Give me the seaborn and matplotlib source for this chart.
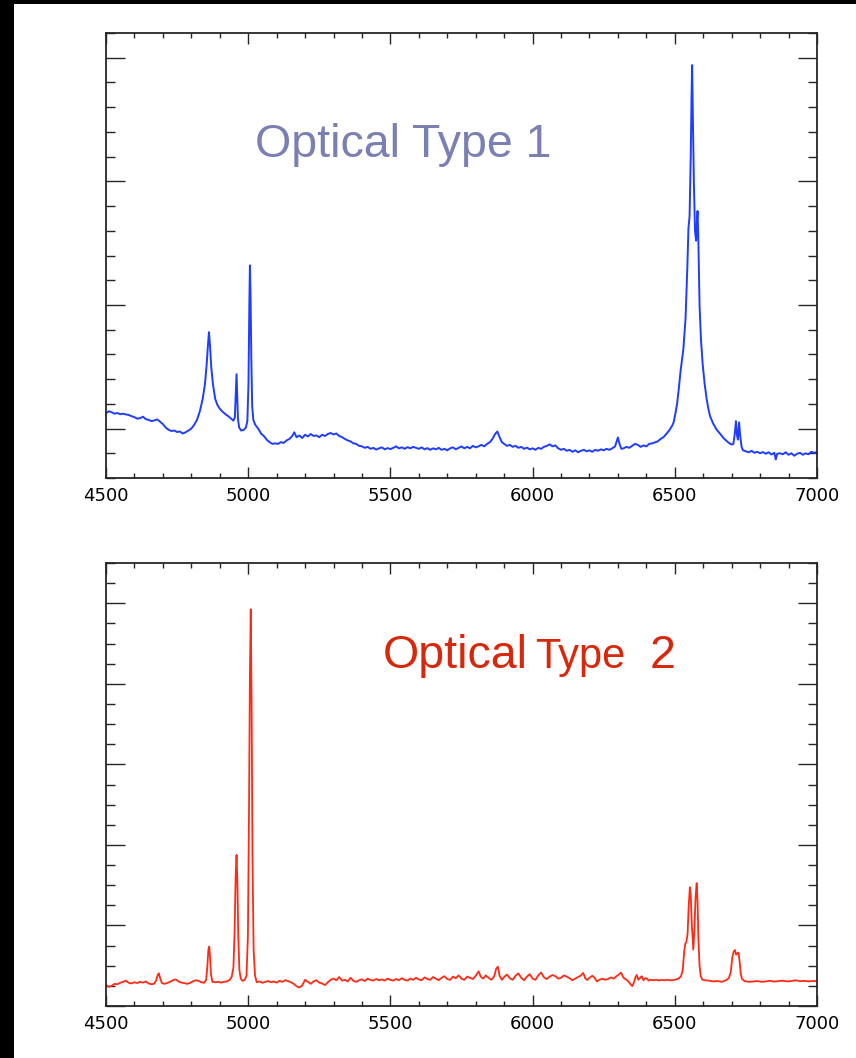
import matplotlib
matplotlib.use("Agg")
import matplotlib.pyplot as plt
from matplotlib.patches import Rectangle
from matplotlib.ticker import MultipleLocator
import seaborn as sns

sns.set_theme(style="white")
plt.rcParams["font.family"] = ["DejaVu Sans"]

# ---------------------------------------------------------------------------
# Type 1 (broad-line) spectrum: wavelength [Angstrom] and relative flux
# ---------------------------------------------------------------------------
wave_t1 = [
    4500, 4510, 4520, 4530, 4540, 4550, 4560, 4570, 4580, 4590,
    4600, 4610, 4620, 4630, 4640, 4650, 4660, 4670, 4680, 4690,
    4700, 4710, 4720, 4730, 4740, 4750, 4760, 4770, 4780, 4790,
    4800, 4810, 4820, 4830, 4840, 4848, 4854, 4858, 4862, 4866,
    4870, 4876, 4884, 4892, 4900, 4910, 4920, 4930, 4940, 4948,
    4953, 4956, 4959, 4961, 4964, 4968, 4975, 4985, 4992, 4997,
    5001, 5004, 5006, 5008, 5011, 5014, 5018, 5025, 5035, 5045,
    5055, 5065, 5075, 5085, 5095, 5105, 5115, 5125, 5135, 5145,
    5155, 5162, 5170, 5180, 5190, 5200, 5210, 5220, 5230, 5240,
    5250, 5260, 5270, 5280, 5290, 5300, 5310, 5320, 5330, 5340,
    5350, 5360, 5370, 5380, 5390, 5400, 5410, 5420, 5430, 5440,
    5450, 5460, 5470, 5480, 5490, 5500, 5510, 5520, 5530, 5540,
    5550, 5560, 5570, 5580, 5590, 5600, 5610, 5620, 5630, 5640,
    5650, 5660, 5670, 5680, 5690, 5700, 5710, 5720, 5730, 5740,
    5750, 5760, 5770, 5780, 5790, 5800, 5810, 5820, 5830, 5840,
    5850, 5860, 5868, 5876, 5884, 5892, 5900, 5910, 5920, 5930,
    5940, 5950, 5960, 5970, 5980, 5990, 6000, 6010, 6020, 6030,
    6040, 6050, 6060, 6070, 6080, 6090, 6100, 6110, 6120, 6130,
    6140, 6150, 6160, 6170, 6180, 6190, 6200, 6210, 6220, 6230,
    6240, 6250, 6260, 6270, 6280, 6290, 6296, 6300, 6305, 6312,
    6320, 6330, 6340, 6350, 6360, 6370, 6380, 6390, 6400, 6410,
    6420, 6430, 6440, 6450, 6460, 6470, 6480, 6490, 6496, 6502,
    6508, 6514, 6520, 6530, 6538, 6544, 6548, 6552, 6556, 6559,
    6561, 6563, 6567, 6571, 6575, 6578, 6580, 6583, 6587, 6592,
    6598, 6605, 6612, 6618, 6624, 6635, 6647, 6660, 6671, 6680,
    6690, 6700, 6706, 6711, 6715, 6719, 6722, 6726, 6730, 6735,
    6740, 6750, 6760, 6770, 6780, 6790, 6800, 6810, 6820, 6830,
    6840, 6850, 6855, 6860, 6870, 6880, 6890, 6900, 6910, 6920,
    6930, 6940, 6950, 6960, 6970, 6980, 6990, 7000,
]
flux_t1 = [
    0.62, 0.70, 0.66, 0.60, 0.63, 0.58, 0.60, 0.57, 0.55, 0.50,
    0.46, 0.40, 0.42, 0.48, 0.38, 0.35, 0.30, 0.33, 0.37, 0.28,
    0.18, 0.04, -0.05, -0.10, -0.08, -0.14, -0.12, -0.20, -0.15, -0.08,
    0.00, 0.15, 0.35, 0.70, 1.20, 1.80, 2.60, 3.30, 3.90, 3.30,
    2.50, 1.80, 1.20, 0.95, 0.80, 0.68, 0.58, 0.50, 0.40, 0.32,
    0.45, 1.30, 2.20, 1.50, 0.40, 0.05, -0.08, -0.05, 0.05, 0.30,
    1.80, 5.00, 6.60, 5.60, 2.80, 0.90, 0.35, 0.15, 0.00, -0.20,
    -0.30, -0.45, -0.55, -0.62, -0.60, -0.62, -0.55, -0.58, -0.48, -0.42,
    -0.30, -0.15, -0.35, -0.28, -0.38, -0.25, -0.32, -0.22, -0.30, -0.28,
    -0.35, -0.25, -0.30, -0.22, -0.18, -0.24, -0.20, -0.30, -0.35, -0.42,
    -0.48, -0.52, -0.60, -0.62, -0.70, -0.72, -0.78, -0.74, -0.82, -0.78,
    -0.85, -0.80, -0.76, -0.84, -0.79, -0.83, -0.78, -0.72, -0.80, -0.76,
    -0.82, -0.75, -0.80, -0.74, -0.78, -0.82, -0.76, -0.84, -0.79, -0.86,
    -0.80, -0.84, -0.78, -0.86, -0.82, -0.88, -0.80, -0.76, -0.84, -0.78,
    -0.72, -0.80, -0.74, -0.80, -0.70, -0.76, -0.72, -0.66, -0.72, -0.62,
    -0.55, -0.40, -0.22, -0.12, -0.35, -0.55, -0.62, -0.70, -0.66, -0.74,
    -0.70, -0.78, -0.74, -0.82, -0.77, -0.84, -0.80, -0.86, -0.78, -0.82,
    -0.74, -0.70, -0.64, -0.72, -0.68, -0.80, -0.86, -0.82, -0.90, -0.86,
    -0.94, -0.88, -0.96, -0.90, -0.86, -0.92, -0.88, -0.94, -0.86, -0.90,
    -0.84, -0.88, -0.82, -0.86, -0.80, -0.72, -0.50, -0.36, -0.60, -0.82,
    -0.80, -0.74, -0.78, -0.70, -0.62, -0.66, -0.74, -0.68, -0.72, -0.62,
    -0.60, -0.56, -0.52, -0.42, -0.35, -0.22, -0.08, 0.10, 0.25, 0.60,
    1.00, 1.60, 2.30, 3.20, 4.50, 6.50, 8.10, 8.60, 11.00, 13.50,
    14.70, 13.00, 10.00, 8.00, 7.60, 8.40, 8.80, 7.50, 5.00, 3.60,
    2.60, 1.80, 1.20, 0.80, 0.50, 0.20, -0.04, -0.22, -0.38, -0.48,
    -0.58, -0.65, -0.62, -0.20, 0.30, -0.30, -0.45, 0.25, -0.30, -0.75,
    -0.88, -0.92, -0.96, -0.90, -0.98, -0.94, -1.00, -0.95, -1.02, -0.96,
    -1.05, -0.98, -1.25, -1.02, -1.00, -1.04, -0.96, -1.06, -1.00, -1.10,
    -1.02, -0.98, -1.06, -1.00, -1.04, -0.94, -0.98, -0.95,
]

# ---------------------------------------------------------------------------
# Type 2 (narrow-line) spectrum: wavelength [Angstrom] and relative flux
# ---------------------------------------------------------------------------
wave_t2 = [
    4500, 4510, 4520, 4530, 4540, 4550, 4560, 4570, 4580, 4590,
    4600, 4610, 4620, 4630, 4640, 4650, 4660, 4668, 4676, 4682,
    4686, 4690, 4696, 4705, 4715, 4725, 4735, 4745, 4755, 4765,
    4775, 4785, 4795, 4805, 4815, 4825, 4835, 4845, 4852, 4856,
    4860, 4863, 4866, 4869, 4874, 4885, 4895, 4905, 4915, 4925,
    4935, 4942, 4948, 4952, 4956, 4959, 4962, 4965, 4969, 4974,
    4980, 4988, 4994, 4999, 5003, 5006, 5009, 5012, 5015, 5019,
    5024, 5030, 5040, 5050, 5060, 5070, 5080, 5090, 5100, 5110,
    5120, 5130, 5140, 5150, 5160, 5170, 5180, 5190, 5200, 5210,
    5220, 5230, 5240, 5250, 5260, 5270, 5280, 5290, 5300, 5310,
    5320, 5330, 5340, 5350, 5360, 5370, 5380, 5390, 5400, 5410,
    5420, 5430, 5440, 5450, 5460, 5470, 5480, 5490, 5500, 5510,
    5520, 5530, 5540, 5550, 5560, 5570, 5580, 5590, 5600, 5610,
    5620, 5630, 5640, 5650, 5660, 5670, 5680, 5690, 5700, 5710,
    5720, 5730, 5740, 5750, 5760, 5770, 5780, 5790, 5800, 5810,
    5818, 5826, 5835, 5845, 5855, 5865, 5872, 5878, 5884, 5892,
    5900, 5910, 5920, 5930, 5940, 5950, 5960, 5970, 5980, 5990,
    6000, 6010, 6020, 6030, 6040, 6050, 6060, 6070, 6080, 6090,
    6100, 6110, 6120, 6130, 6140, 6150, 6160, 6170, 6178, 6185,
    6192, 6200, 6210, 6218, 6226, 6235, 6245, 6255, 6265, 6275,
    6285, 6295, 6303, 6311, 6318, 6325, 6333, 6340, 6346, 6351,
    6357, 6362, 6366, 6372, 6378, 6384, 6390, 6396, 6402, 6408,
    6415, 6425, 6435, 6445, 6455, 6465, 6475, 6485, 6495, 6505,
    6515, 6522, 6528, 6533, 6537, 6541, 6545, 6549, 6553, 6556,
    6560, 6565, 6569, 6573, 6577, 6580, 6583, 6587, 6591, 6596,
    6605, 6620, 6635, 6650, 6665, 6680, 6690, 6697, 6702, 6707,
    6711, 6716, 6720, 6724, 6728, 6732, 6736, 6745, 6760, 6775,
    6790, 6805, 6820, 6835, 6850, 6865, 6880, 6895, 6910, 6925,
    6940, 6955, 6970, 6985, 7000,
]
flux_t2 = [
    1.04, 0.95, 1.00, 1.10, 1.08, 1.15, 1.20, 1.26, 1.15, 1.12,
    1.18, 1.14, 1.20, 1.16, 1.22, 1.12, 1.08, 1.10, 1.25, 1.55,
    1.62, 1.40, 1.15, 1.10, 1.14, 1.20, 1.28, 1.32, 1.22, 1.16,
    1.14, 1.10, 1.14, 1.22, 1.28, 1.25, 1.18, 1.15, 1.30, 1.90,
    2.80, 2.95, 2.40, 1.60, 1.20, 1.18, 1.20, 1.16, 1.20, 1.22,
    1.30, 1.45, 1.90, 3.60, 6.50, 7.50, 6.20, 3.50, 1.80, 1.35,
    1.25, 1.30, 1.50, 3.50, 10.00, 16.50, 19.70, 15.00, 7.50, 2.80,
    1.50, 1.18, 1.22, 1.15, 1.20, 1.24, 1.18, 1.22, 1.16, 1.25,
    1.20, 1.28, 1.24, 1.18, 1.10, 0.98, 0.92, 1.02, 1.30, 1.20,
    1.10, 1.22, 1.28, 1.16, 1.12, 1.04, 1.18, 1.30, 1.36, 1.28,
    1.44, 1.26, 1.30, 1.22, 1.40, 1.25, 1.20, 1.28, 1.32, 1.24,
    1.36, 1.30, 1.26, 1.34, 1.28, 1.32, 1.26, 1.36, 1.30, 1.26,
    1.34, 1.28, 1.38, 1.30, 1.26, 1.36, 1.30, 1.40, 1.32, 1.28,
    1.42, 1.34, 1.30, 1.44, 1.36, 1.28, 1.40, 1.48, 1.34, 1.30,
    1.46, 1.38, 1.52, 1.36, 1.30, 1.46, 1.40, 1.34, 1.50, 1.72,
    1.45, 1.36, 1.52, 1.40, 1.30, 1.48, 1.85, 1.95, 1.50, 1.30,
    1.44, 1.56, 1.38, 1.30, 1.50, 1.62, 1.40, 1.28, 1.46, 1.58,
    1.36, 1.30, 1.52, 1.66, 1.42, 1.34, 1.46, 1.54, 1.48, 1.36,
    1.40, 1.52, 1.46, 1.38, 1.28, 1.36, 1.44, 1.52, 1.64, 1.38,
    1.29, 1.40, 1.50, 1.40, 1.22, 1.30, 1.36, 1.30, 1.34, 1.42,
    1.36, 1.48, 1.56, 1.66, 1.44, 1.34, 1.28, 1.16, 1.05, 0.99,
    1.20, 1.44, 1.54, 1.30, 1.40, 1.48, 1.28, 1.38, 1.36, 1.26,
    1.30, 1.28, 1.30, 1.27, 1.29, 1.28, 1.30, 1.27, 1.29, 1.32,
    1.38, 1.48, 1.80, 2.70, 3.10, 3.20, 3.60, 5.00, 5.90, 5.50,
    4.00, 2.80, 3.80, 5.40, 6.10, 5.20, 3.30, 2.00, 1.50, 1.32,
    1.28, 1.26, 1.22, 1.24, 1.20, 1.28, 1.38, 1.70, 2.40, 2.70,
    2.78, 2.55, 2.62, 2.65, 2.20, 1.60, 1.35, 1.24, 1.20, 1.22,
    1.24, 1.20, 1.22, 1.25, 1.21, 1.24, 1.26, 1.22, 1.24, 1.28,
    1.23, 1.25, 1.22, 1.24, 1.24,
]

x_major_ticks = [4500, 5000, 5500, 6000, 6500, 7000]

W, H = 856, 1058
fig = plt.figure(figsize=(W / 100, H / 100), dpi=100, facecolor="black")
# white sheet inside the black frame
fig.add_artist(Rectangle((14 / W, 0), 1 - 14 / W, 1 - 4 / H,
                         transform=fig.transFigure, facecolor="white",
                         edgecolor="none", zorder=-5))

ax1 = fig.add_axes([106 / W, 1 - 478 / H, 711 / W, 445 / H])
ax2 = fig.add_axes([106 / W, 1 - 1006 / H, 711 / W, 443 / H])

sns.lineplot(x=wave_t1, y=flux_t1, ax=ax1, color="#1f3dff", linewidth=1.4,
             estimator=None, sort=False)
sns.lineplot(x=wave_t2, y=flux_t2, ax=ax2, color="#ff2a14", linewidth=1.3,
             estimator=None, sort=False)

ax1.set_ylim(-2, 16)
ax2.set_ylim(0, 22)
ax1.yaxis.set_major_locator(MultipleLocator(5))
ax2.yaxis.set_major_locator(MultipleLocator(4))

spine_col = "#262626"
for ax in (ax1, ax2):
    ax.set_facecolor("white")
    ax.set_xlim(4500, 7000)
    ax.set_xticks(x_major_ticks)
    ax.set_xticklabels([str(t) for t in x_major_ticks])
    ax.xaxis.set_minor_locator(MultipleLocator(100))
    ax.yaxis.set_minor_locator(MultipleLocator(1))
    ax.set_xlabel("")
    ax.set_ylabel("")
    ax.grid(False)
    for sp in ax.spines.values():
        sp.set_visible(True)
        sp.set_color(spine_col)
        sp.set_linewidth(1.3)
    ax.tick_params(which="both", direction="in", top=True, right=True,
                   bottom=True, left=True, labelleft=False, labelright=False,
                   colors=spine_col)
    ax.tick_params(axis="x", which="major", length=7.9, width=1.0, pad=6.5,
                   labelsize=13, labelcolor="black")
    ax.tick_params(axis="x", which="minor", length=3.8, width=1.0)
    ax.tick_params(axis="y", which="major", length=13.5, width=1.0)
    ax.tick_params(axis="y", which="minor", length=6.7, width=1.0)

ax1.text(0.2096, 0.7213, "Optical Type 1", transform=ax1.transAxes,
         fontsize=33.5, color="#7a80b2", family="Liberation Sans",
         ha="left", va="baseline")

red_txt = "#d8280c"
ax2.text(0.3896, 0.763, "Optical", transform=ax2.transAxes, fontsize=33.5,
         color=red_txt, family="Liberation Sans", ha="left", va="baseline")
ax2.text(0.603, 0.763, "Type", transform=ax2.transAxes, fontsize=30,
         color=red_txt, family="Liberation Sans", ha="left", va="baseline")
ax2.text(0.765, 0.763, "2", transform=ax2.transAxes, fontsize=33.5,
         color=red_txt, family="Liberation Sans", ha="left", va="baseline")

fig.savefig("out.png", dpi=100, facecolor=fig.get_facecolor())
